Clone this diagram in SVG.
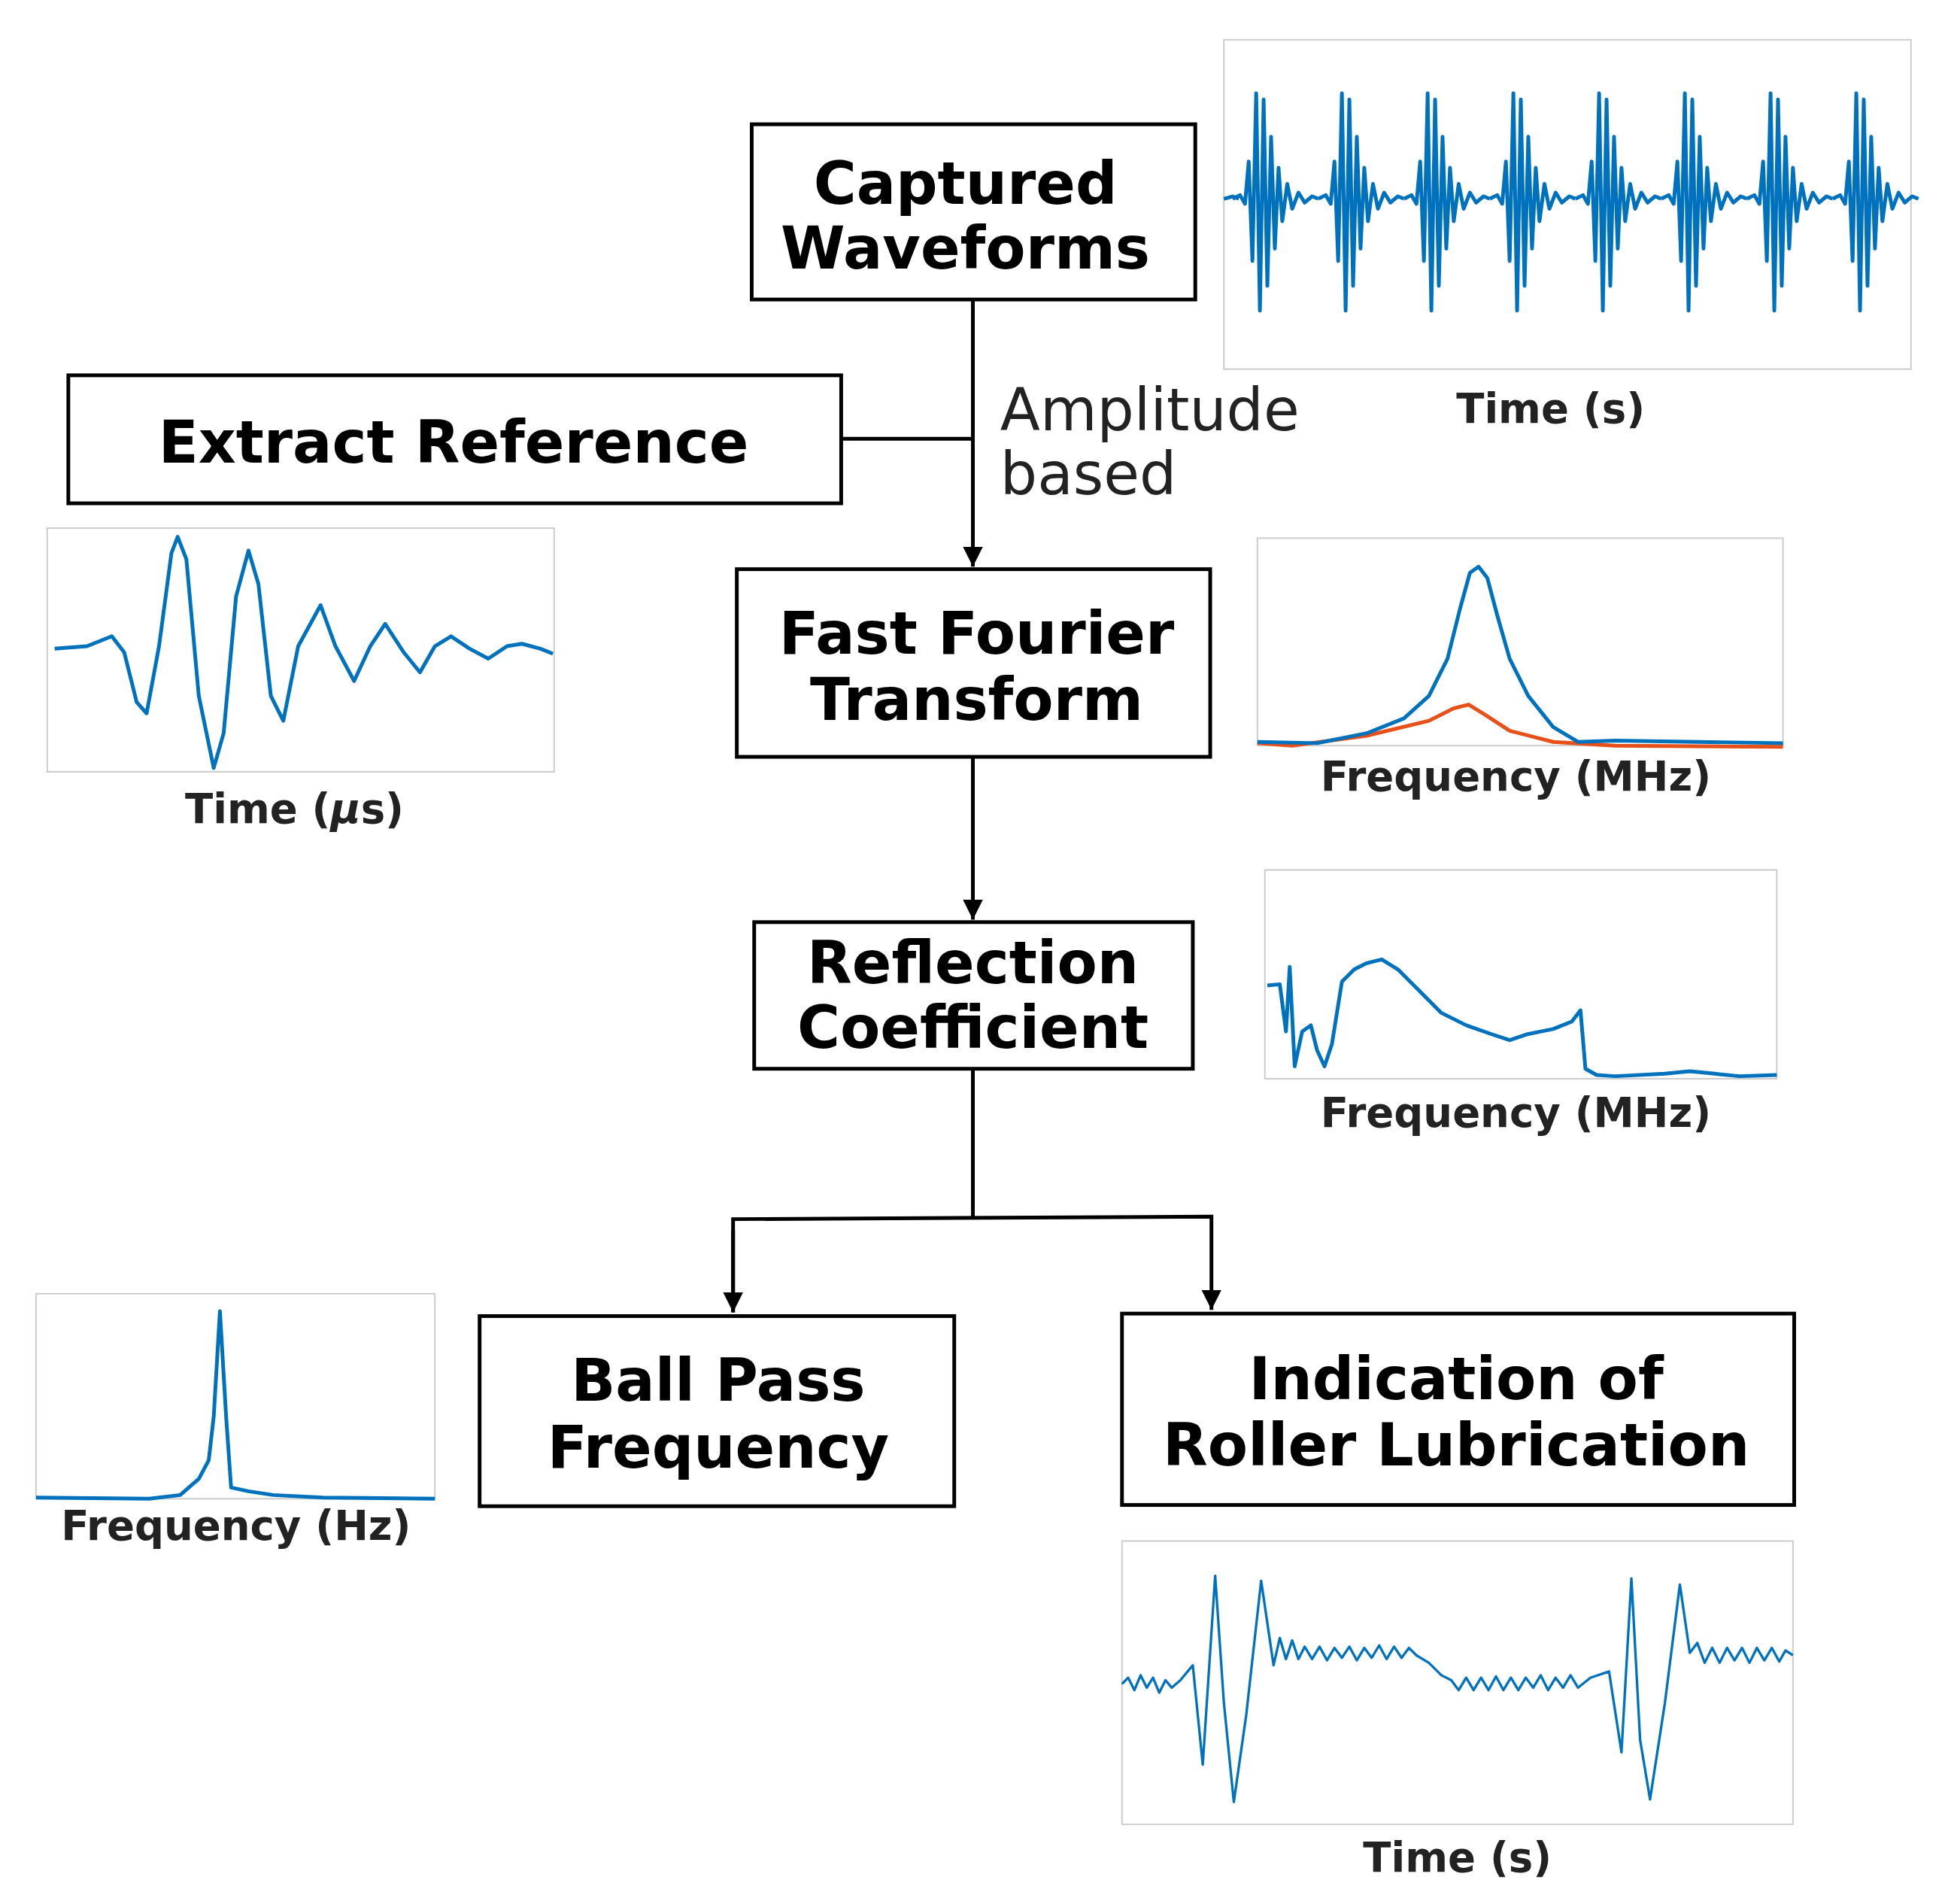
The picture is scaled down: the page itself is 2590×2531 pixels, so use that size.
<svg xmlns="http://www.w3.org/2000/svg" width="2590" height="2531" viewBox="0 0 2590 2531">
<style>
.box{fill:#fff;stroke:#000;stroke-width:3}
.bt{font-family:"DejaVu Sans",Verdana,sans-serif;font-weight:bold;font-size:47px;text-anchor:middle;fill:#000}
.pl{font-family:"DejaVu Sans",Verdana,sans-serif;font-weight:bold;font-size:33px;text-anchor:middle;fill:#222}
.frame{fill:#fff;stroke:#ccc;stroke-width:1.2}
.w{fill:none;stroke:#0072bd;stroke-width:3;stroke-linejoin:round}
.c{fill:none;stroke:#000;stroke-width:3}
</style>
<defs>
<marker id="a" markerWidth="16" markerHeight="16" refX="16" refY="8" orient="auto" markerUnits="userSpaceOnUse"><path d="M0,0L16,8L0,16z" fill="#000"/></marker>
<path id="burst" d="M-20,0 L-14,-3 L-10,4 L-7,-30 L-4,50 L-1,-85 L2,90 L5,-80 L8,70 L11,-50 L14,40 L17,-25 L20,18 L24,-12 L28,8 L33,-5 L38,3 L44,-2 L49,0"/>
</defs>
<rect width="2590" height="2531" fill="#fff"/>
<g transform="scale(1.652)">
<g id="plot-top">
<rect class="frame" x="985" y="32" width="553" height="265"/>
<path class="w" d="M985,160 L992,158 L997,160"/>
<g class="w">
<use href="#burst" x="1012" y="160"/><use href="#burst" x="1081" y="160"/><use href="#burst" x="1150" y="160"/><use href="#burst" x="1219" y="160"/><use href="#burst" x="1288" y="160"/><use href="#burst" x="1357" y="160"/><use href="#burst" x="1426" y="160"/><use href="#burst" x="1495" y="160"/>
</g>
<text class="pl" x="1248" y="340">Time (s)</text>
</g>
<g id="plot-left">
<rect class="frame" x="38" y="425" width="408" height="196"/>
<path class="w" d="M44,522 L70,520 L90,512 L100,525 L110,565 L118,574 L128,520 L138,445 L143,432 L150,450 L160,560 L172,618 L180,590 L190,480 L200,443 L208,470 L218,560 L228,580 L240,520 L258,487 L270,520 L285,548 L298,520 L310,502 L325,525 L338,541 L350,520 L363,512 L378,522 L393,530 L408,520 L420,518 L435,522 L445,526"/>
<text class="pl" x="237" y="662">Time (<tspan font-style="italic">μ</tspan>s)</text>
</g>
<g id="plot-fft">
<rect class="frame" x="1012" y="433" width="423" height="167"/>
<path fill="none" stroke="#e8501a" stroke-width="3" d="M1012,598 L1040,600 L1100,592 L1150,580 L1170,570 L1182,567 L1195,575 L1215,588 L1250,597 L1300,600 L1435,601"/>
<path class="w" d="M1012,597 L1060,598 L1100,590 L1130,578 L1150,560 L1165,530 L1175,490 L1183,461 L1190,456 L1197,465 L1205,495 L1215,530 L1230,560 L1250,585 L1270,597 L1300,596 L1435,598"/>
<text class="pl" x="1220" y="636">Frequency (MHz)</text>
</g>
<g id="plot-rc">
<rect class="frame" x="1018" y="700" width="412" height="168"/>
<path class="w" d="M1020,793 L1030,792 L1035,830 L1038,778 L1042,858 L1048,830 L1055,825 L1060,845 L1066,858 L1072,840 L1080,790 L1090,780 L1100,775 L1112,772 L1125,780 L1140,795 L1160,815 L1180,825 L1200,832 L1215,837 L1230,832 L1250,828 L1265,822 L1272,813 L1276,860 L1285,865 L1300,866 L1340,864 L1360,862 L1380,864 L1400,866 L1430,865"/>
<text class="pl" x="1220" y="907">Frequency (MHz)</text>
</g>
<g id="plot-bpf">
<rect class="frame" x="29" y="1041" width="321" height="165"/>
<path class="w" d="M29,1205 L120,1206 L145,1203 L160,1190 L168,1175 L172,1140 L177,1055 L182,1140 L186,1197 L200,1200 L220,1203 L260,1205 L350,1206"/>
<text class="pl" x="190" y="1239">Frequency (Hz)</text>
</g>
<g id="plot-bottom">
<rect class="frame" x="903" y="1240" width="540" height="228"/>
<path fill="none" stroke="#0072bd" stroke-width="2" stroke-linejoin="round" d="M903,1355 L908,1350 L913,1360 L918,1348 L923,1358 L928,1350 L933,1362 L938,1352 L943,1358 L950,1352 L960,1340 L968,1420 L978,1268 L985,1370 L993,1450 L1003,1380 L1015,1272 L1025,1340 L1030,1318 L1035,1335 L1040,1320 L1045,1335 L1050,1325 L1056,1335 L1062,1325 L1068,1336 L1074,1326 L1080,1334 L1086,1325 L1092,1336 L1098,1326 L1104,1334 L1110,1324 L1116,1335 L1122,1325 L1128,1334 L1134,1326 L1140,1332 L1150,1338 L1160,1348 L1168,1352 L1174,1360 L1180,1350 L1186,1360 L1192,1350 L1198,1360 L1204,1349 L1210,1360 L1216,1350 L1222,1360 L1228,1350 L1234,1358 L1240,1348 L1246,1360 L1252,1350 L1258,1358 L1264,1348 L1270,1358 L1280,1350 L1295,1345 L1305,1410 L1313,1270 L1320,1400 L1328,1448 L1340,1370 L1352,1275 L1360,1330 L1366,1322 L1372,1338 L1378,1326 L1384,1338 L1390,1326 L1396,1336 L1402,1326 L1408,1338 L1414,1326 L1420,1336 L1426,1326 L1432,1337 L1437,1328 L1443,1332"/>
<text class="pl" x="1173" y="1506">Time (s)</text>
</g>
<g id="connectors">
<line class="c" x1="783" y1="241" x2="783" y2="456" marker-end="url(#a)"/>
<line class="c" x1="677" y1="353" x2="783" y2="353"/>
<line class="c" x1="783" y1="609" x2="783" y2="740" marker-end="url(#a)"/>
<line class="c" x1="783" y1="860" x2="783" y2="979"/>
<polyline class="c" points="590,1056 590,981 975,979 975,1054" marker-end="url(#a)"/>
<line class="c" x1="590" y1="990" x2="590" y2="1056" marker-end="url(#a)"/>
</g>
<text x="805" y="346" font-family="'DejaVu Sans',Verdana,sans-serif" font-size="47" fill="#222">Amplitude</text>
<text x="805" y="398" font-family="'DejaVu Sans',Verdana,sans-serif" font-size="47" fill="#222">based</text>
<g id="captured"><rect class="box" x="605" y="100" width="357" height="141"/><text class="bt" x="777" y="164">Captured</text><text class="bt" x="777" y="216">Waveforms</text></g>
<g id="extract"><rect class="box" x="55" y="302" width="622" height="103"/><text class="bt" x="365" y="372">Extract Reference</text></g>
<g id="fft"><rect class="box" x="593" y="458" width="381" height="151"/><text class="bt" x="786" y="526">Fast Fourier</text><text class="bt" x="786" y="579">Transform</text></g>
<g id="reflection"><rect class="box" x="607" y="742" width="353" height="118"/><text class="bt" x="783" y="791">Reflection</text><text class="bt" x="783" y="843">Coefficient</text></g>
<g id="ballpass"><rect class="box" x="386" y="1059" width="382" height="153"/><text class="bt" x="578" y="1127">Ball Pass</text><text class="bt" x="578" y="1181">Frequency</text></g>
<g id="indication"><rect class="box" x="903" y="1057" width="541" height="154" stroke-width="4"/><text class="bt" x="1172" y="1126">Indication of</text><text class="bt" x="1172" y="1179">Roller Lubrication</text></g>
</g>
</svg>
